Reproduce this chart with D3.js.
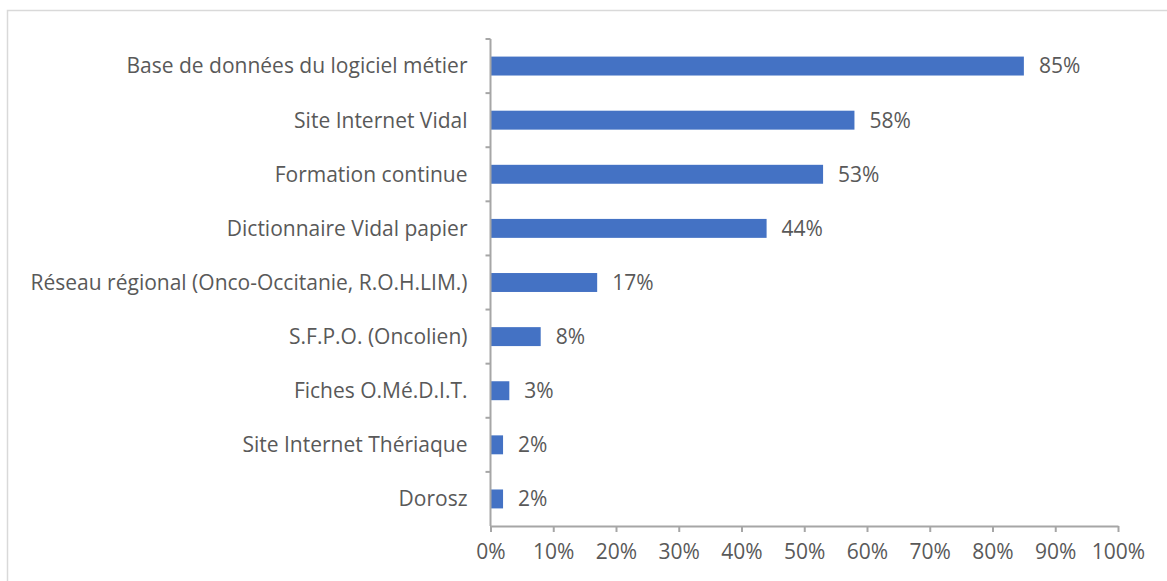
<!DOCTYPE html>
<html>
<head>
<meta charset="utf-8">
<script src="https://cdn.jsdelivr.net/npm/d3@7"></script>
<style>
  body { margin: 0; background: #fff; }
  svg text { font-family: "Open Sans", "Noto Sans", sans-serif; fill: #595959; }
</style>
</head>
<body>
<div id="chart"></div>
<script>
const categories = [
  "Base de données du logiciel métier",
  "Site Internet Vidal",
  "Formation continue",
  "Dictionnaire Vidal papier",
  "Réseau régional (Onco-Occitanie, R.O.H.LIM.)",
  "S.F.P.O. (Oncolien)",
  "Fiches O.Mé.D.I.T.",
  "Site Internet Thériaque",
  "Dorosz"
];
const values = [0.85, 0.58, 0.53, 0.44, 0.17, 0.08, 0.03, 0.02, 0.02];
const tickValues = [0, 0.1, 0.2, 0.3, 0.4, 0.5, 0.6, 0.7, 0.8, 0.9, 1.0];

function makeChart() {
  const width = 1167,
      height = 581;
  const left = 490.5, right = 1118, top = 39, bottom = 526;
  const fontSize = '21px';

  const svg = d3.select('#chart').append('svg')
      .attr('width', width)
      .attr('height', height);

  // chart frame
  svg.append('rect')
      .attr('x', 7.5).attr('y', 10.5)
      .attr('width', 1180).attr('height', 600)
      .attr('fill', 'none')
      .attr('stroke', '#d9d9d9')
      .attr('stroke-width', 1.5);

  const x = d3.scaleLinear().domain([0, 1]).range([left, right]);
  const y = d3.scaleBand().domain(categories).range([top, bottom]).paddingInner(0.65).paddingOuter(0.325);

  const fmt = d3.format('.0%');

  // bars
  svg.append('g').selectAll('rect')
      .data(values)
      .enter().append('rect')
      .attr('x', x(0))
      .attr('y', (d, i) => y(categories[i]))
      .attr('width', d => x(d) - x(0))
      .attr('height', y.bandwidth())
      .attr('fill', '#4472c4');

  // value labels
  svg.append('g').selectAll('text')
      .data(values)
      .enter().append('text')
      .attr('x', d => x(d) + 15)
      .attr('y', (d, i) => y(categories[i]) + y.bandwidth() / 2)
      .attr('dy', '0.35em')
      .style('font-size', fontSize)
      .text(d => fmt(d));

  // y axis line + category separator ticks
  const axisColor = '#a6a6a6';
  svg.append('line')
      .attr('x1', left).attr('x2', left)
      .attr('y1', top).attr('y2', bottom)
      .attr('stroke', axisColor).attr('stroke-width', 2);

  const step = y.step();
  svg.append('g').selectAll('line')
      .data(d3.range(categories.length))
      .enter().append('line')
      .attr('x1', left - 5).attr('x2', left)
      .attr('y1', i => top + i * step)
      .attr('y2', i => top + i * step)
      .attr('stroke', axisColor).attr('stroke-width', 2);

  // category labels
  svg.append('g').selectAll('text')
      .data(categories)
      .enter().append('text')
      .attr('x', left - 23)
      .attr('y', d => y(d) + y.bandwidth() / 2)
      .attr('dy', '0.35em')
      .attr('text-anchor', 'end')
      .style('font-size', fontSize)
      .text(d => d);

  // x axis
  const xAxis = svg.append('g')
      .attr('transform', 'translate(0,' + bottom + ')')
      .call(d3.axisBottom(x).tickValues(tickValues).tickFormat(fmt).tickSize(6).tickSizeOuter(0).tickPadding(12));

  xAxis.select('.domain').attr('stroke', axisColor).attr('stroke-width', 2);
  xAxis.selectAll('.tick line').attr('stroke', axisColor).attr('stroke-width', 2);
  xAxis.selectAll('.tick text')
      .style('font-size', fontSize)
      .attr('fill', '#595959')
      .style('font-family', '"Open Sans", "Noto Sans", sans-serif');
}

makeChart();
</script>
</body>
</html>
